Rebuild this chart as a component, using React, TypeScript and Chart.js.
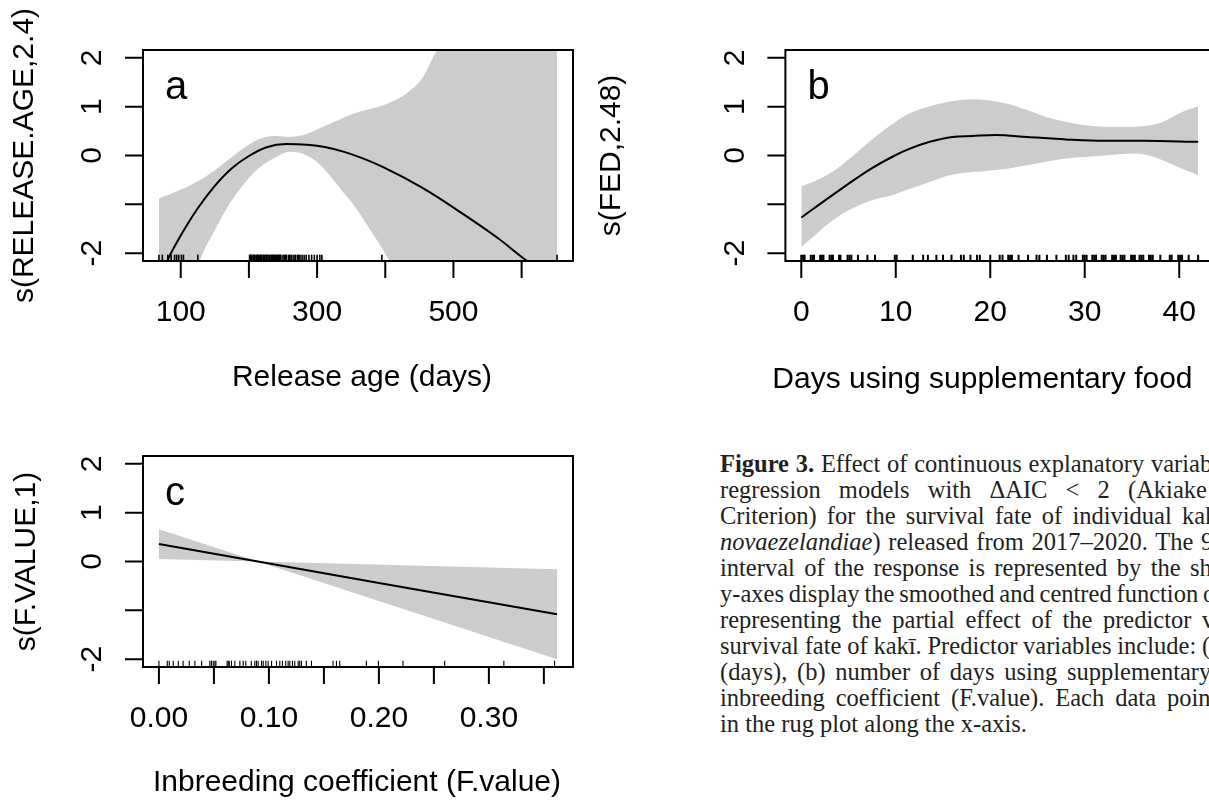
import React, { useEffect, useLayoutEffect, useRef } from "react";
import { Chart, registerables } from "chart.js";

Chart.register(...registerables);

// ---------------- Panel a: Release age (days) ----------------
const ageBandX = [68, 100, 127, 150, 172, 195, 217, 240, 259, 280, 302, 324, 341, 352, 375, 397, 406, 431, 454, 476, 500, 550, 600, 652];
const ageUpper = [-0.88, -0.7, -0.51, -0.3, -0.06, 0.18, 0.35, 0.4, 0.38, 0.42, 0.55, 0.68, 0.79, 0.85, 0.94, 1.03, 1.08, 1.27, 1.58, 2.16, 2.6, 3.4, 4.2, 5.0];
const ageLower = [-4.8, -3.7, -2.2, -1.53, -0.98, -0.54, -0.23, -0.03, 0.075, 0.03, -0.16, -0.5, -0.8, -0.98, -1.46, -1.94, -2.16, -2.9, -3.5, -4.2, -4.9, -6.2, -7.4, -8.6];
const ageFitX = [68, 80, 100, 125, 150, 175, 200, 225, 255, 285, 313, 341, 369, 397, 454, 510, 566, 608, 652];
const ageFit = [-2.55, -2.16, -1.64, -1.08, -0.62, -0.26, -0.01, 0.165, 0.235, 0.22, 0.17, 0.07, -0.07, -0.24, -0.66, -1.16, -1.7, -2.16, -2.55];
const ageRug = [68, 73, 81, 86, 91, 94, 97, 101, 104, 125, 201, 202, 203, 204, 206, 207, 208, 209, 211, 212, 213, 214, 216, 217, 218, 219, 221, 222, 223, 225, 226, 227, 228, 230, 231, 233, 234, 235, 236, 238, 239, 240, 242, 243, 245, 246, 247, 250, 252, 254, 255, 258, 260, 262, 263, 266, 268, 271, 273, 275, 278, 281, 284, 288, 292, 296, 300, 304, 307, 395, 652];
const ageTicks = [100, 200, 300, 400, 500, 600];
const ageTickLabels = ["100", "", "300", "", "500", ""];

// ---------------- Panel b: Days using supplementary food ----------------
const fedBandX = [0, 1.65, 3.3, 5.35, 7.4, 9.5, 11.5, 13.6, 15.6, 18.1, 19.75, 21.8, 23.9, 25.9, 28, 30, 32.1, 35.4, 37, 38.3, 40.3, 42];
const fedUpper = [-0.63, -0.505, -0.335, -0.027, 0.314, 0.625, 0.863, 1.01, 1.1, 1.15, 1.13, 1.06, 0.93, 0.79, 0.69, 0.62, 0.59, 0.59, 0.62, 0.69, 0.89, 1.01];
const fedLower = [-1.87, -1.6, -1.33, -1.09, -0.92, -0.82, -0.68, -0.54, -0.41, -0.34, -0.31, -0.27, -0.2, -0.13, -0.06, -0.03, 0.0, 0.04, -0.01, -0.1, -0.27, -0.4];
const fedFitX = [0, 3.3, 7.4, 9.9, 11.5, 13.6, 16, 18.1, 20.6, 23.9, 28, 32, 36.2, 42];
const fedFit = [-1.27, -0.81, -0.27, 0.0, 0.14, 0.28, 0.38, 0.4, 0.42, 0.38, 0.33, 0.3, 0.3, 0.28];
const fedRug = [0, 0.2, 0.35, 1, 1.2, 1.35, 2, 2.2, 2.35, 3, 3.2, 3.35, 4, 4.15, 4.9, 5.1, 5.3, 6, 7, 7.8, 9.9, 10.1, 11.8, 12.9, 13.4, 14.3, 15, 15.9, 16.9, 17.2, 17.9, 18.6, 18.9, 20, 21, 21.3, 21.9, 22.1, 22.3, 23, 24, 24.9, 25.2, 26, 27, 28, 28.3, 28.8, 29.1, 29.8, 30, 30.2, 30.8, 31, 31.2, 31.8, 32, 32.2, 32.9, 33.1, 33.3, 33.8, 34, 34.2, 34.9, 35.1, 35.3, 35.8, 36, 36.2, 36.8, 37, 37.2, 38, 39, 39.2, 39.9, 40.1, 40.3, 41, 42];
const fedTicks = [0, 10, 20, 30, 40];
const fedTickLabels = ["0", "10", "20", "30", "40"];

// ---------------- Panel c: Inbreeding coefficient (F.value) ----------------
const fvalBandX = [0, 0.09, 0.362];
const fvalUpper = [0.66, 0.0, -0.16];
const fvalLower = [0.05, 0.0, -2.0];
const fvalFitX = [0, 0.09, 0.2, 0.362];
const fvalFit = [0.36, 0.0, -0.44, -1.08];
const fvalRug = [0, 0.0076, 0.0094, 0.013, 0.0176, 0.022, 0.0276, 0.0327, 0.0388, 0.0463, 0.0478, 0.0494, 0.0509, 0.0518, 0.062, 0.063, 0.064, 0.066, 0.069, 0.0736, 0.0766, 0.079, 0.084, 0.0872, 0.0887, 0.0902, 0.0933, 0.0948, 0.0972, 0.0993, 0.1024, 0.1069, 0.1099, 0.1123, 0.1153, 0.1175, 0.119, 0.1214, 0.1235, 0.1266, 0.128, 0.1296, 0.134, 0.1387, 0.1583, 0.1614, 0.1644, 0.1886, 0.1995, 0.2219, 0.2598, 0.3136, 0.3597];
const fvalTicks = [0, 0.05, 0.1, 0.15, 0.2, 0.25, 0.3, 0.35];
const fvalTickLabels = ["0.00", "", "0.10", "", "0.20", "", "0.30", ""];

// ---------------- shared y axis ----------------
const yTicks = [-2, -1, 0, 1, 2];
const yTickLabels = ["-2", "", "0", "1", "2"];
const yLimits = [-2, 2];

// ---------------- caption ----------------
type Part = [string, string];
const captionLines: { parts: Part[]; anchorX: number | null }[] = [
  { parts: [["Figure 3.", "b"], [" Effect of continuous explanatory ", ""], ["variables", "a"]], anchorX: 1151 },
  { parts: [["regression models with \u0394AIC < 2 ", ""], ["(Akiake\u2019s", "a"]], anchorX: 1128 },
  { parts: [["Criterion) for the survival fate of individual ", ""], ["kak\u012b", "a"]], anchorX: 1182 },
  { parts: [["novaezelandiae", "i"], [") released from 2017\u20132020. The ", ""], ["95%", "a"]], anchorX: 1201 },
  { parts: [["interval of the response is represented by the ", ""], ["shaded", "a"]], anchorX: 1190 },
  { parts: [["y-axes display the smoothed and centred function ", ""], ["of", "a"]], anchorX: 1203 },
  { parts: [["representing the partial effect of the predictor ", ""], ["variable", "a"]], anchorX: 1202 },
  { parts: [["survival fate of kak\u012b. Predictor variables include: ", ""], ["(a)", "a"]], anchorX: 1202 },
  { parts: [["(days), (b) number of days using ", ""], ["supplementary", "a"]], anchorX: 1067 },
  { parts: [["inbreeding coefficient (F.value). Each data ", ""], ["point", "a"]], anchorX: 1167 },
  { parts: [["in the rug plot along the x-axis.", ""]], anchorX: null },
];

// ---------------- layout (pixels) ----------------
const FONT = '"Liberation Sans", Arial, Helvetica, sans-serif';
const CAPTION_LEFT = 720;
const CAPTION_TOP = 451;
const CAPTION_LINE = 26;
const CAPTION_SIZE = 24.5;

type PanelSpec = {
  id: string;
  letter: string;
  xTitle: string;
  yTitle: string;
  bandX: number[];
  upper: number[];
  lower: number[];
  fitX: number[];
  fit: number[];
  rug: number[];
  rugWidth: number;
  xTicks: number[];
  xTickLabels: string[];
  smooth: boolean;
  box: { left: number; top: number; width: number; height: number };
  pad: { left: number; top: number; right: number; bottom: number };
  yTitleDx: number;
  xTitleDx: number;
  xTitleDy: number;
};

const panels: PanelSpec[] = [
  {
    id: "a", letter: "a", xTitle: "Release age (days)", yTitle: "s(RELEASE.AGE,2.4)",
    bandX: ageBandX, upper: ageUpper, lower: ageLower, fitX: ageFitX, fit: ageFit, rug: ageRug, rugWidth: 1.6,
    xTicks: ageTicks, xTickLabels: ageTickLabels, smooth: true,
    box: { left: 0, top: 0, width: 610, height: 400 },
    pad: { left: 143, top: 50, right: 37, bottom: 139 },
    yTitleDx: -118, xTitleDx: 219, xTitleDy: 117,
  },
  {
    id: "b", letter: "b", xTitle: "Days using supplementary food", yTitle: "s(FED,2.48)",
    bandX: fedBandX, upper: fedUpper, lower: fedLower, fitX: fedFitX, fit: fedFit, rug: fedRug, rugWidth: 2,
    xTicks: fedTicks, xTickLabels: fedTickLabels, smooth: true,
    box: { left: 590, top: 0, width: 640, height: 400 },
    pad: { left: 195.4, top: 50, right: 16, bottom: 139 },
    yTitleDx: -174, xTitleDx: 197, xTitleDy: 119,
  },
  {
    id: "c", letter: "c", xTitle: "Inbreeding coefficient (F.value)", yTitle: "s(F.VALUE,1)",
    bandX: fvalBandX, upper: fvalUpper, lower: fvalLower, fitX: fvalFitX, fit: fvalFit, rug: fvalRug, rugWidth: 1.1,
    xTicks: fvalTicks, xTickLabels: fvalTickLabels, smooth: false,
    box: { left: 0, top: 406, width: 610, height: 395 },
    pad: { left: 143, top: 50, right: 37, bottom: 134 },
    yTitleDx: -116, xTitleDx: 214, xTitleDy: 116,
  },
];

function rAxesPlugin(p: PanelSpec) {
  return {
    id: "rAxes" + p.id,
    afterDraw(chart: any) {
      const { ctx, chartArea: ca } = chart;
      const xs = chart.scales.x;
      const ys = chart.scales.y;
      ctx.save();
      ctx.strokeStyle = "#000";
      ctx.lineWidth = 2;
      ctx.strokeRect(ca.left, ca.top, ca.right - ca.left, ca.bottom - ca.top);
      ctx.beginPath();
      p.xTicks.forEach((v) => {
        const px = xs.getPixelForValue(v);
        ctx.moveTo(px, ca.bottom);
        ctx.lineTo(px, ca.bottom + 17);
      });
      yTicks.forEach((v) => {
        const py = ys.getPixelForValue(v);
        ctx.moveTo(ca.left, py);
        ctx.lineTo(ca.left - 18, py);
      });
      ctx.stroke();

      ctx.fillStyle = "#000";
      ctx.font = `30px ${FONT}`;
      ctx.textAlign = "center";
      ctx.textBaseline = "middle";
      p.xTicks.forEach((v, i) => {
        const lab = p.xTickLabels[i];
        if (lab) ctx.fillText(lab, xs.getPixelForValue(v), ca.bottom + 52);
      });
      yTicks.forEach((v, i) => {
        const lab = yTickLabels[i];
        if (!lab) return;
        ctx.save();
        ctx.translate(ca.left - 50, ys.getPixelForValue(v));
        ctx.rotate(-Math.PI / 2);
        ctx.fillText(lab, 0, 0);
        ctx.restore();
      });
      ctx.fillText(p.xTitle, ca.left + p.xTitleDx, ca.bottom + p.xTitleDy);
      ctx.save();
      ctx.translate(ca.left + p.yTitleDx, (ca.top + ca.bottom) / 2);
      ctx.rotate(-Math.PI / 2);
      ctx.fillText(p.yTitle, 0, 0);
      ctx.restore();

      ctx.font = `40px ${FONT}`;
      ctx.textAlign = "left";
      ctx.textBaseline = "alphabetic";
      ctx.fillText(p.letter, ca.left + 22, ca.top + 49);
      ctx.restore();
    },
  };
}

function Panel({ p }: { p: PanelSpec }) {
  const ref = useRef<HTMLCanvasElement | null>(null);
  useEffect(() => {
    if (!ref.current) return;
    const xMinData = Math.min(...p.bandX);
    const xMaxData = Math.max(...p.bandX);
    const xr = xMaxData - xMinData;
    const yr = yLimits[1] - yLimits[0];
    const yMin = yLimits[0] - 0.04 * yr;
    const yMax = yLimits[1] + 0.04 * yr;
    const rugY = yMin + 0.015 * yr * 1.08;
    const curve = p.smooth ? { cubicInterpolationMode: "monotone" as const } : { tension: 0 };
    const chart = new Chart(ref.current, {
      type: "line",
      data: {
        datasets: [
          {
            label: "fit",
            data: p.fitX.map((x, i) => ({ x, y: p.fit[i] })),
            borderColor: "#000",
            borderWidth: 2,
            pointRadius: 0,
            fill: false,
            ...curve,
          } as any,
          {
            label: "rug",
            data: p.rug.map((x) => ({ x, y: rugY })),
            showLine: false,
            pointStyle: "line",
            pointRotation: 90,
            pointRadius: 3.2,
            pointBorderWidth: p.rugWidth,
            pointBorderColor: "#000",
            pointBackgroundColor: "#000",
          } as any,
          {
            label: "upper",
            data: p.bandX.map((x, i) => ({ x, y: p.upper[i] })),
            borderWidth: 0,
            borderColor: "rgba(0,0,0,0)",
            backgroundColor: "#cccccc",
            pointRadius: 0,
            fill: "+1",
            ...curve,
          } as any,
          {
            label: "lower",
            data: p.bandX.map((x, i) => ({ x, y: p.lower[i] })),
            borderWidth: 0,
            borderColor: "rgba(0,0,0,0)",
            pointRadius: 0,
            fill: false,
            ...curve,
          } as any,
        ],
      },
      options: {
        responsive: false,
        animation: false,
        devicePixelRatio: 1,
        events: [],
        layout: { padding: p.pad },
        plugins: { legend: { display: false }, tooltip: { enabled: false } },
        scales: {
          x: { type: "linear", min: xMinData - 0.04 * xr, max: xMaxData + 0.04 * xr, display: false },
          y: { type: "linear", min: yMin, max: yMax, display: false },
        },
      },
      plugins: [rAxesPlugin(p)],
    });
    return () => chart.destroy();
  }, [p]);
  return (
    <canvas
      ref={ref}
      width={p.box.width}
      height={p.box.height}
      style={{ position: "absolute", left: p.box.left, top: p.box.top, width: p.box.width, height: p.box.height }}
    />
  );
}

function Caption() {
  const refs = useRef<(HTMLDivElement | null)[]>([]);
  useLayoutEffect(() => {
    refs.current.forEach((div, i) => {
      const line = captionLines[i];
      if (!div || line.anchorX == null) return;
      div.style.wordSpacing = "0px";
      const anchor = div.querySelector("[data-anchor]") as HTMLElement | null;
      if (!anchor) return;
      const left = anchor.getBoundingClientRect().left;
      const idx = line.parts.findIndex((q) => q[1] === "a");
      const before = line.parts.slice(0, idx).map((q) => q[0]).join("");
      const n = (before.match(/ /g) || []).length;
      if (n > 0) div.style.wordSpacing = `${(line.anchorX - left) / n}px`;
    });
  }, []);
  return (
    <>
      {captionLines.map((line, i) => (
        <div
          key={i}
          ref={(el) => {
            refs.current[i] = el;
          }}
          style={{
            position: "absolute",
            left: CAPTION_LEFT,
            top: CAPTION_TOP + i * CAPTION_LINE,
            whiteSpace: "pre",
            fontFamily: '"Liberation Serif", "Times New Roman", serif',
            fontSize: CAPTION_SIZE,
            lineHeight: `${CAPTION_LINE}px`,
            color: "#231f20",
          }}
        >
          {line.parts.map((q, j) =>
            q[1] === "b" ? (
              <b key={j}>{q[0]}</b>
            ) : q[1] === "i" ? (
              <i key={j}>{q[0]}</i>
            ) : q[1] === "a" ? (
              <span key={j} data-anchor="1">{q[0]}</span>
            ) : (
              <span key={j}>{q[0]}</span>
            )
          )}
        </div>
      ))}
    </>
  );
}

export default function App() {
  return (
    <div
      style={{
        position: "fixed",
        left: 0,
        top: 0,
        width: 1209,
        height: 801,
        overflow: "hidden",
        background: "#ffffff",
      }}
    >
      {panels.map((p) => (
        <Panel key={p.id} p={p} />
      ))}
      <Caption />
    </div>
  );
}
